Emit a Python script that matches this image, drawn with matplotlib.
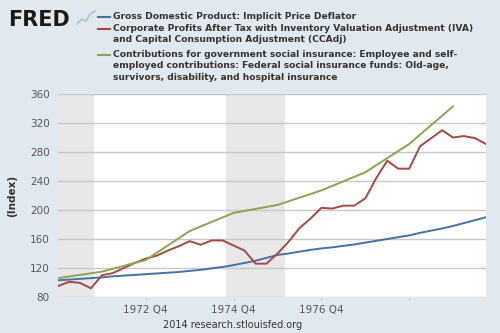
import numpy as np
import matplotlib
matplotlib.use('Agg')
import matplotlib.pyplot as plt

# quarterly series, 1970 Q1 .. 1979 Q4
start_year = 1970
gdp_deflator = [103, 104, 105, 106, 107, 108.5, 109.5, 110.5,
                111.5, 112.5, 113.5, 114.5, 116, 117.5, 119.5, 121.5,
                124, 127, 130, 134, 138, 140, 142.5, 145,
                147, 148.5, 150.5, 152.5, 155, 157.5, 160, 162.5,
                165, 168.5, 171.5, 174.5, 178, 182, 186, 190]
corp_profits = [95, 101, 99.5, 92, 110, 113, 120, 127,
                133, 137, 144, 150, 157, 152, 158, 158,
                151, 144, 126, 126, 140, 156, 175, 188,
                203, 202, 206, 206, 216, 244, 268, 257,
                257, 288, 299, 310, 300, 302, 299, 291]
# annual series, 1970 .. 1979
years = [1970, 1971, 1972, 1973, 1974, 1975, 1976, 1977, 1978, 1979]
soc_insurance = [106, 115, 131, 171, 196, 207, 227, 252, 291, 343]

recessions = [(1969.92, 1970.83), (1973.83, 1975.16)]
xticks = [1972, 1974, 1976, 1978]
xticklabels = ['1972 Q4', '1974 Q4', '1976 Q4', '']
yticks = [80, 120, 160, 200, 240, 280, 320, 360]

names = ['Gross Domestic Product: Implicit Price Deflator',
         'Corporate Profits After Tax with Inventory Valuation Adjustment (IVA)\nand Capital Consumption Adjustment (CCAdj)',
         'Contributions for government social insurance: Employee and self-\nemployed contributions: Federal social insurance funds: Old-age,\nsurvivors, disability, and hospital insurance']
colors = ['#4572A7', '#AA4643', '#89A54E']

bg = '#E1E9F0'
fig = plt.figure(figsize=(5, 3.33), dpi=100, facecolor=bg)
ax = fig.add_axes([58/500, 36/333, 428/500, 203/333])
ax.set_facecolor('white')

q = start_year + np.arange(len(gdp_deflator))/4
for a, b in recessions:
    ax.axvspan(a, b, color='#E8E8E8', lw=0, zorder=0)
for y in yticks:
    ax.axhline(y, color='#C8C8C8', lw=1, zorder=1)

ax.plot(q, gdp_deflator, color=colors[0], lw=1.4, zorder=3)
ax.plot(q, corp_profits, color=colors[1], lw=1.4, zorder=3)
ax.plot(years, soc_insurance, color=colors[2], lw=1.4, zorder=3)

ax.set_xlim(1970, 1979.75)
ax.set_ylim(80, 360)
ax.set_yticks(yticks)
ax.set_xticks(xticks)
ax.set_xticklabels(xticklabels)
ax.tick_params(axis='y', length=0, labelsize=7.5, labelcolor='#555555', pad=6)
ax.tick_params(axis='x', length=3, color='#D0D0D0', labelsize=7.5, labelcolor='#555555', pad=3)
for s in ax.spines.values():
    s.set_visible(False)
ax.set_ylabel('(Index)', fontsize=7.5, fontweight='bold', color='#333333', labelpad=9)

# header
fig.text(8/500, 1-26/333, 'FRED', fontsize=15, fontweight='heavy', color='#1a1a1a')
fig.lines.append(plt.Line2D([77/500, 82/500, 86/500, 90/500, 95/500],
                            [1-24/333, 1-19/333, 1-21/333, 1-14/333, 1-11/333],
                            transform=fig.transFigure, color='#A8C4DC', lw=1.2))
rows = [17, 29, 55]
for name, c, r in zip(names, colors, rows):
    fig.lines.append(plt.Line2D([98/500, 110/500], [1-r/333, 1-r/333],
                                transform=fig.transFigure, color=c, lw=1.5))
    fig.text(113/500, 1-(r-5)/333, name, fontsize=6.6, fontweight='bold', color='#333333',
             va='top', ha='left', linespacing=1.35)

fig.text(233/500, 1-325/333, '2014 research.stlouisfed.org', fontsize=7, color='#333333',
         ha='center', va='center')

fig.savefig('out.png', dpi=100, facecolor=bg)
